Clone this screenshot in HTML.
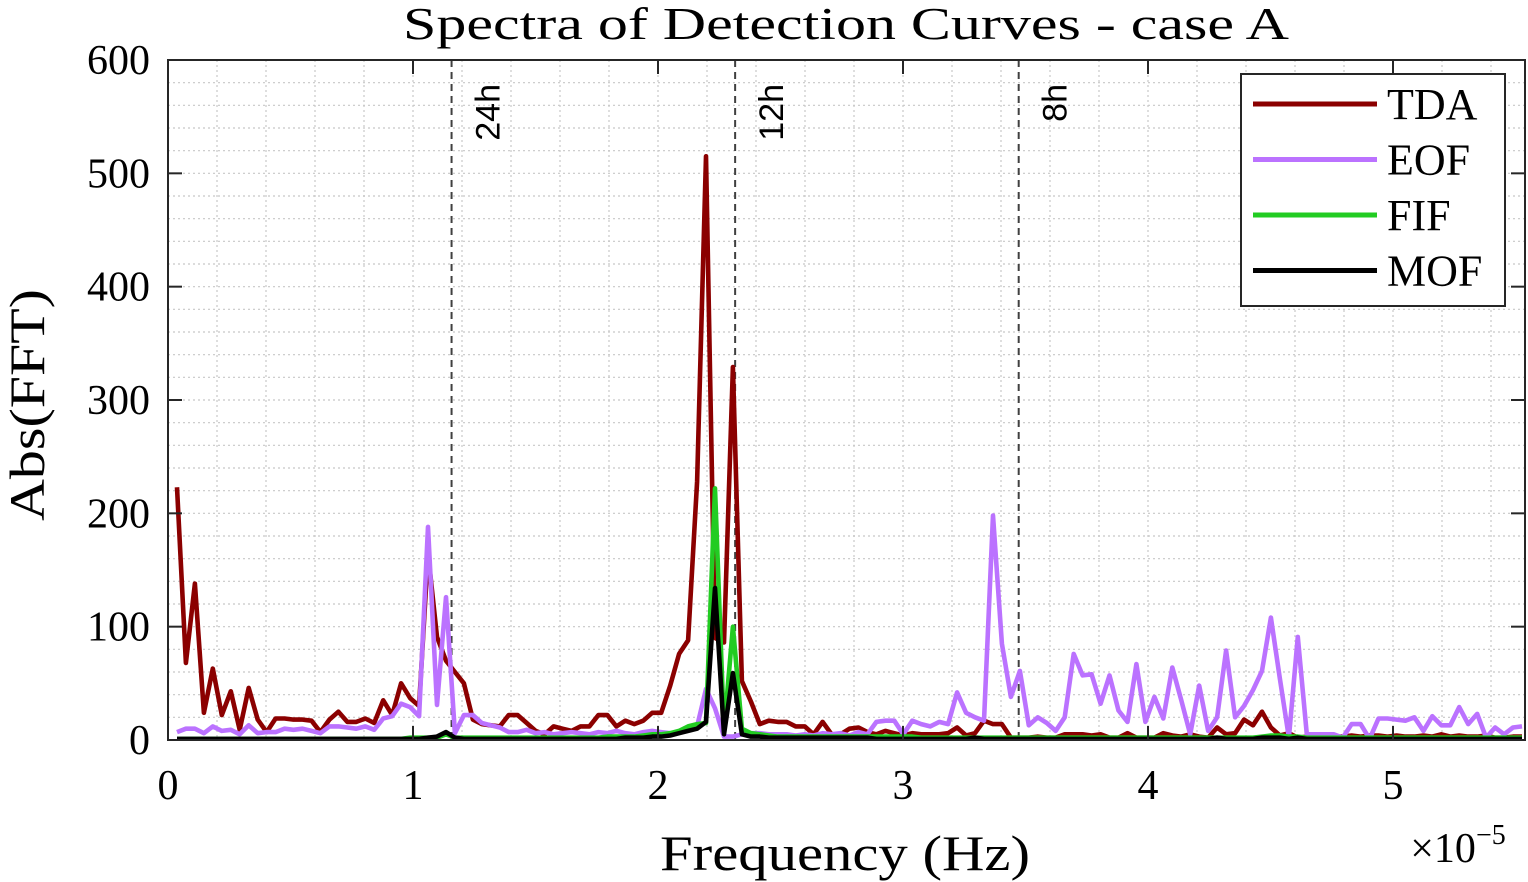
<!DOCTYPE html>
<html><head><meta charset="utf-8"><style>
body{margin:0;background:#fff;width:1528px;height:882px;overflow:hidden}
svg{display:block}
.serif{font-family:"Liberation Serif",serif}
.sans{font-family:"Liberation Sans",sans-serif}
</style></head><body>
<svg id="chart" width="1528" height="882" xmlns="http://www.w3.org/2000/svg">
<defs><clipPath id="plotclip"><rect x="168" y="60" width="1357" height="680"/></clipPath></defs>
<rect x="0" y="0" width="1528" height="882" fill="#fff"/>
<g id="grid"></g>
<g id="vlines"></g>
<g id="series" clip-path="url(#plotclip)"></g>
<g id="axes"></g>
<text class="serif" x="846" y="39" font-size="45" text-anchor="middle" textLength="886" lengthAdjust="spacingAndGlyphs">Spectra of Detection Curves - case A</text>
<text class="serif" x="845" y="870" font-size="50" text-anchor="middle" textLength="370" lengthAdjust="spacingAndGlyphs">Frequency (Hz)</text>
<text class="serif" x="1458" y="862" font-size="42" text-anchor="middle">×10<tspan dy="-18" font-size="28">−5</tspan></text>
<text class="serif" transform="translate(44,405) rotate(-90)" font-size="50" text-anchor="middle" textLength="232" lengthAdjust="spacingAndGlyphs">Abs(FFT)</text>
<g id="legend">
<rect x="1241" y="74" width="264" height="232" fill="#fff" stroke="#262626" stroke-width="2"/>
</g>
</svg>
<script>
const periodLabels = ["24h","12h","8h"];
const periodHours = [24,12,8];
const seriesNames = ["TDA","EOF","FIF","MOF"];
const seriesColors = ["#8b0000","#bb72ff","#22cc22","#000000"];
const xTicks = [0,1,2,3,4,5];
const yTicks = [0,100,200,300,400,500,600];
const freqStep = 0.0366; // ×1e-5 Hz per bin
const tda = [223,68,138,24,63,22,43,9,46,18,
7,19,19,18,18,17,7,18,25,16,
16,19,15,35,22,50,37,30,165,91,
70,60,50,18,14,13,12,22,22,15,
8,5,12,10,8,12,12,22,22,12,
17,14,17,24,24,48,76,88,228,515,
90,86,329,52,34,14,17,16,16,12,
12,5,16,5,5,10,11,7,5,8,
6,4,6,5,5,
5,6,11,4,6,17,14,14,2,2,
2,3,2,2,5,5,5,4,5,2,
2,6,2,2,2,6,4,3,5,3,
2,11,5,6,18,13,25,11,4,6,
2,3,3,2,3,3,4,3,4,4,
3,4,3,3,4,3,5,3,4,3,
3,4,2,2,3,3];
const eof = [7,10,10,6,12,8,9,5,13,6,
7,7,10,9,10,8,6,12,12,11,
10,12,9,19,21,32,29,21,188,31,
126,6,22,22,15,13,11,7,7,9,
6,7,5,6,7,6,5,7,6,8,
6,5,7,8,7,6,7,9,12,45,
28,3,3,5,6,6,5,5,5,4,
5,4,6,5,6,4,7,5,16,17,
17,5,17,14,12,
16,14,42,24,20,17,198,85,38,61,
13,20,15,8,20,76,57,58,32,57,
26,16,67,16,38,19,64,35,5,48,
8,20,79,20,30,44,61,108,54,2,
91,5,5,5,5,2,14,14,1,19,
19,18,17,20,8,21,13,13,29,14,
23,2,11,5,11,12];
const fif = [1,1,1,1,1,1,1,1,1,1,
1,1,1,1,1,1,1,1,1,1,
1,1,1,1,1,1,2,2,2,2,
5,2,2,2,2,2,2,2,2,2,
2,2,2,2,2,2,2,2,3,3,
3,3,4,5,5,6,8,12,14,15,
222,8,100,10,6,5,4,3,3,3,
3,3,3,3,3,3,3,3,3,3,
3,3,3,2,2,2,2,2,2,2,
2,2,2,2,2,2,2,2,2,2,
2,2,2,2,2,2,2,2,2,2,
2,2,2,2,2,2,2,2,2,2,
2,3,4,4,3,3,2,2,2,2,
2,2,2,2,2,2,2,2,2,2,
2,2,2,2,2,2,2,2,2,2,2];
const mof = [1,1,1,1,1,1,1,1,1,1,
1,1,1,1,1,1,1,1,1,1,
1,1,1,1,1,1,1,1,2,3,
7,2,1,1,1,1,1,1,1,1,
1,1,1,1,1,1,1,1,1,1,
2,2,2,3,3,4,6,8,10,16,
134,5,59,5,3,3,2,2,2,2,
2,2,2,2,2,2,2,2,1,1,
1,1,1,1,1,1,1,1,1,2,
1,1,1,1,1,1,1,1,1,1,
1,1,1,1,1,1,1,1,1,1,
1,1,1,1,1,1,2,1,1,1,
1,2,2,2,1,2,1,1,1,1,
1,1,1,1,1,1,1,1,1,1,
1,1,1,1,1,1,1,1,1,1,1];
const allSeries = [tda,eof,fif,mof];

const X0=168,X1=1525,Y0=740,Y1=60;
const xMin=0,xMax=(X1-X0)/245,yMin=0,yMax=600;
function xs(f){return X0+(f-xMin)/(xMax-xMin)*(X1-X0);}
function ys(v){return Y0-(v-yMin)/(yMax-yMin)*(Y0-Y1);}
const NS="http://www.w3.org/2000/svg";
function mk(tag,attrs,parent){const e=document.createElementNS(NS,tag);for(const k in attrs)e.setAttribute(k,attrs[k]);parent.appendChild(e);return e;}

const grid=document.getElementById('grid');
for(let f=0.2;f<xMax;f+=0.2){
  const l=mk('line',{x1:xs(f),x2:xs(f),y1:Y1,y2:Y0,stroke:'#c8c8c8','stroke-width':1.2,'stroke-dasharray':'2,3'},grid);
  
  
}
for(let v=20;v<600;v+=20){
  const l=mk('line',{x1:X0,x2:X1,y1:ys(v),y2:ys(v),stroke:'#c8c8c8','stroke-width':1.2,'stroke-dasharray':'2,3'},grid);
  
  
}

const vl=document.getElementById('vlines');
periodHours.forEach((h,i)=>{
  const f=1/(h*3600)*1e5;
  const l=mk('line',{x1:xs(f),x2:xs(f),y1:Y1,y2:Y0,stroke:'#404040','stroke-width':2,'stroke-dasharray':'7,5'},vl);
  
  
  const t=mk('text',{class:'sans','font-size':34,transform:'translate('+(xs(f)+48)+',84) rotate(-90)','text-anchor':'end'},vl);
  t.textContent=periodLabels[i];
  
  
});

const sg=document.getElementById('series');
allSeries.forEach((arr,si)=>{
  const pts=arr.map((v,i)=>xs((i+1)*freqStep).toFixed(1)+','+ys(v).toFixed(1)).join(' ');
  const p=mk('polyline',{points:pts,fill:'none',stroke:seriesColors[si],'stroke-width':4.6,'stroke-linejoin':'round'},sg);
  
  
});

const ax=document.getElementById('axes');
mk('rect',{x:X0,y:Y1,width:X1-X0,height:Y0-Y1,fill:'none',stroke:'#262626','stroke-width':2},ax);
xTicks.forEach(t=>{
  mk('line',{x1:xs(t),x2:xs(t),y1:Y0,y2:Y0-14,stroke:'#262626','stroke-width':2},ax);
  mk('line',{x1:xs(t),x2:xs(t),y1:Y1,y2:Y1+14,stroke:'#262626','stroke-width':2},ax);
  const tx=mk('text',{class:'serif',x:xs(t),y:799,'font-size':42,'text-anchor':'middle'},ax);
  tx.textContent=t;
  
  
});
yTicks.forEach(t=>{
  mk('line',{x1:X0,x2:X0+14,y1:ys(t),y2:ys(t),stroke:'#262626','stroke-width':2},ax);
  mk('line',{x1:X1,x2:X1-14,y1:ys(t),y2:ys(t),stroke:'#262626','stroke-width':2},ax);
  const tx=mk('text',{class:'serif',x:150,y:ys(t)+14,'font-size':42,'text-anchor':'end'},ax);
  tx.textContent=t;
  
  
});

const lg=document.getElementById('legend');
seriesNames.forEach((n,i)=>{
  const y=104+i*55.5;
  const l=mk('line',{x1:1253,x2:1377,y1:y,y2:y,stroke:seriesColors[i],'stroke-width':5},lg);
  
  
  const t=mk('text',{class:'serif',x:1387,y:y+15,'font-size':44},lg);
  t.textContent=n;
  
  
});
</script>
</body></html>
